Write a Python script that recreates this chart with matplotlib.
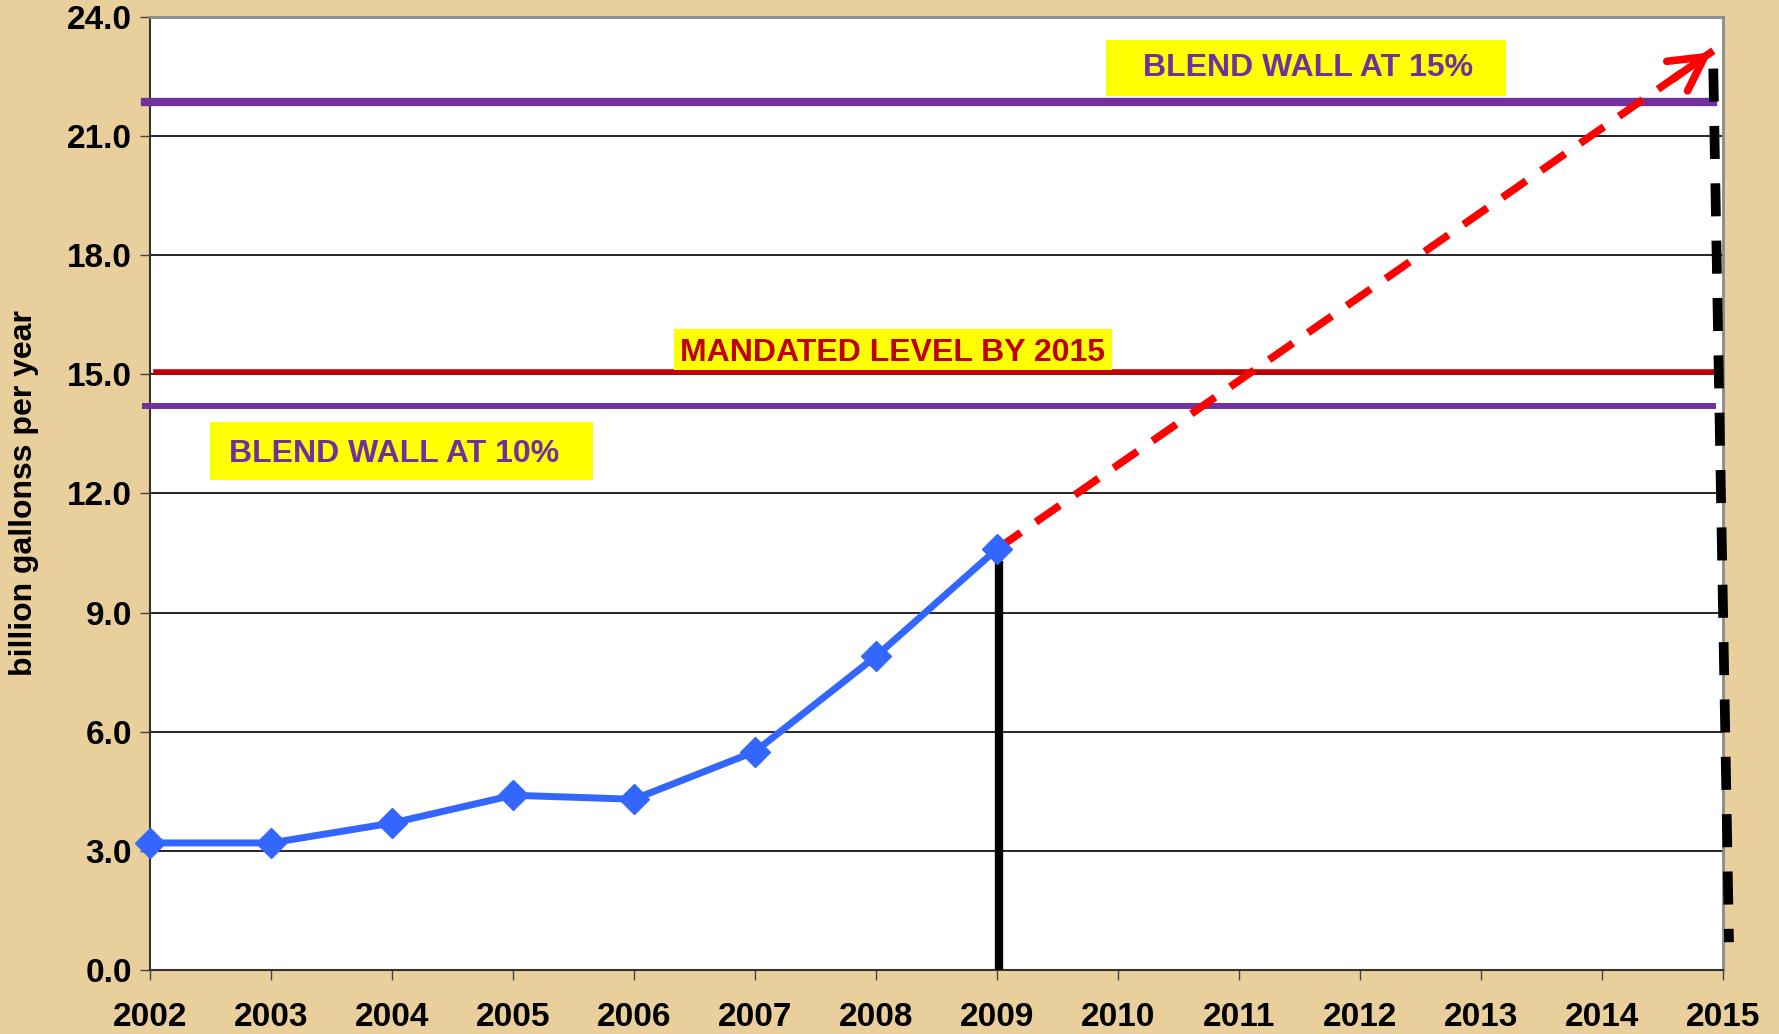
import numpy as np
import matplotlib.pyplot as plt
from matplotlib.patches import Rectangle

# ethanol production, billion gallons per year
years = [2002, 2003, 2004, 2005, 2006, 2007, 2008, 2009]
production = [3.2, 3.2, 3.7, 4.4, 4.3, 5.5, 7.9, 10.6]

# projection arrow (start, end)
proj_x = [2009, 2014.92]
proj_y = [10.6, 23.15]

# reference levels
blend_wall_15 = 21.85
blend_wall_10 = 14.2
mandated_2015 = 15.05

# marker lines
now_x = [2009.02, 2009.02]
now_y = [0, 10.3]
target_x = [2014.92, 2015.05]
target_y = [22.7, 0.7]

xticks = list(range(2002, 2016))
yticks = np.arange(0, 24.1, 3)

bg = '#E8CF9C'
purple = '#7030A0'
darkred = '#C00000'
blue = '#3366FF'

plt.rcParams['font.family'] = ['Liberation Sans', 'DejaVu Sans']
plt.rcParams['font.weight'] = 'bold'

fig = plt.figure(figsize=(17.79, 10.34), dpi=100)
fig.patch.set_facecolor(bg)
ax = fig.add_axes([0.0843, 0.0619, 0.8842, 0.9217])
ax.set_facecolor('white')

ax.set_xlim(2002, 2015)
ax.set_ylim(0, 24)
ax.set_xticks(xticks)
ax.set_yticks(yticks)
ax.set_yticklabels([f'{v:.1f}' for v in yticks])
ax.tick_params(axis='both', labelsize=24, direction='out', length=7, width=1, color='#444444')
ax.tick_params(axis='x', pad=16)
ax.tick_params(axis='y', pad=6)
for lab in ax.get_xticklabels() + ax.get_yticklabels():
    lab.set_fontweight('bold')
ax.grid(axis='y', color='black', linewidth=1.2)
ax.set_axisbelow(True)
for s in ['left', 'bottom']:
    ax.spines[s].set_color('#333333')
    ax.spines[s].set_linewidth(1.5)
for s in ['top', 'right']:
    ax.spines[s].set_color('#8a8a8a')
    ax.spines[s].set_linewidth(2)

# horizontal reference lines
ax.plot([2001.96, 2014.92], [blend_wall_15] * 2, color=purple, lw=6, clip_on=False, zorder=3)
ax.plot([2001.96, 2014.92], [blend_wall_10] * 2, color=purple, lw=4.3, clip_on=False, zorder=3)
ax.plot([2002.05, 2014.92], [mandated_2015] * 2, color=darkred, lw=4, clip_on=False, zorder=3)

# vertical markers
ax.plot(now_x, now_y, color='black', lw=6, solid_capstyle='butt', zorder=4)
ax.plot(target_x, target_y, color='black', lw=7, dashes=(3.4, 2.5), clip_on=False, zorder=4)

# projection
ax.plot(proj_x, proj_y, color='red', lw=5.5, dashes=(3.8, 2.4), zorder=4)
ax.annotate('', xy=(proj_x[1], proj_y[1]),
            xytext=(proj_x[1] - 0.35, proj_y[1] - 0.75),
            arrowprops=dict(arrowstyle='->,head_length=2.4,head_width=1.3', color='red',
                            lw=5.5, mutation_scale=10),
            zorder=5)

# actual production
ax.plot(years, production, color=blue, lw=5, marker='D', markersize=15, zorder=6, clip_on=False)

ax.set_ylabel('billion gallonss per year', fontsize=23, fontweight='bold')
ax.yaxis.set_label_coords(-0.0705, 0.5)

# yellow label boxes: (x0, x1, y0, y1), text centre
labels = [
    ('BLEND WALL AT 15%', purple, (2009.90, 2013.21, 22.0, 23.42), (2011.57, 22.71)),
    ('MANDATED LEVEL BY 2015', darkred, (2006.33, 2009.95, 15.12, 16.13), (2008.14, 15.55)),
    ('BLEND WALL AT 10%', purple, (2002.50, 2005.66, 12.33, 13.79), (2004.02, 13.0)),
]
for txt, col, (x0, x1, y0, y1), (tx, ty) in labels:
    ax.add_patch(Rectangle((x0, y0), x1 - x0, y1 - y0, facecolor='yellow',
                           edgecolor='none', zorder=7))
    ax.text(tx, ty, txt, color=col, fontsize=23, fontweight='bold',
            ha='center', va='center', zorder=8)

fig.savefig('out.png', dpi=100, facecolor=bg)
